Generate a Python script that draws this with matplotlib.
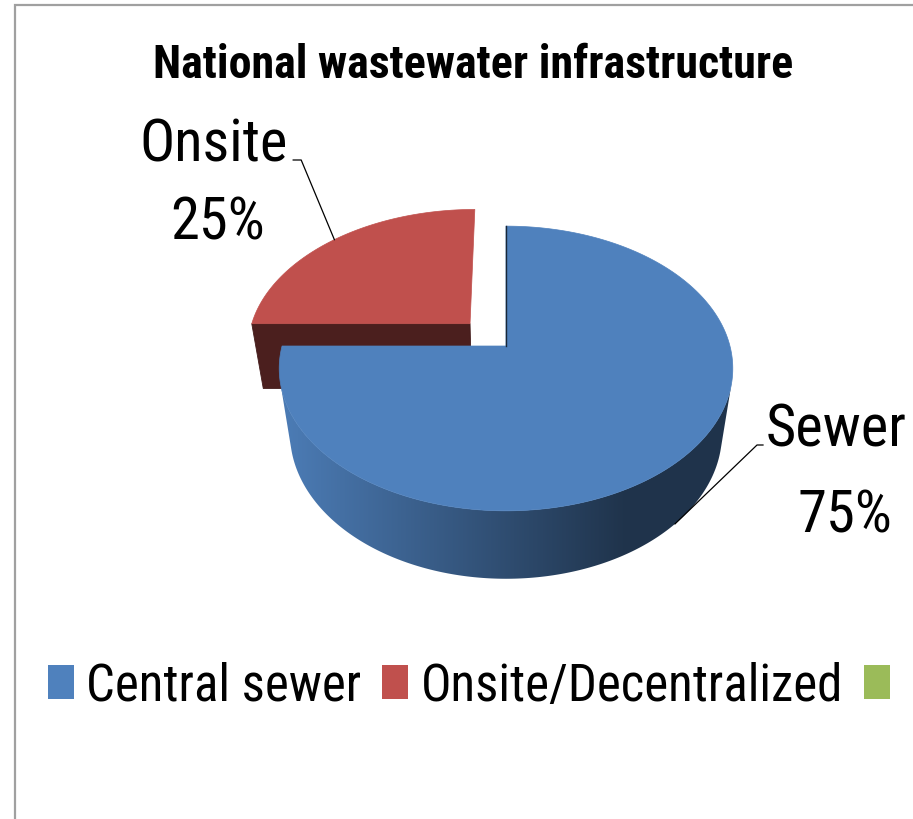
import numpy as np
import matplotlib
matplotlib.use("Agg")
import matplotlib.pyplot as plt
from matplotlib import font_manager
from matplotlib.patches import Polygon, Patch
from matplotlib.colors import to_rgb

# chart data
title = "National wastewater infrastructure"
categories = ["Central sewer", "Onsite/Decentralized", ""]
shares = [75, 25, 0]
slice_names = ["Sewer", "Onsite", ""]
colors = ["#4F81BD", "#C0504D", "#9BBB59"]
explode = [0.0, 0.233, 0.0]

W, H = 913, 820

# pick a narrow font if one is installed (the original uses a condensed face)
installed = {f.name for f in font_manager.fontManager.ttflist}
font = next((f for f in ["Liberation Sans Narrow", "DejaVu Sans Condensed",
                         "Roboto Condensed", "Open Sans Condensed", "Liberation Sans"]
             if f in installed), "DejaVu Sans")
plt.rcParams["font.family"] = [font, "DejaVu Sans"]

fig = plt.figure(figsize=(W / 100, H / 100), dpi=100)
ax = fig.add_axes([0, 0, 1, 1])
renderer = fig.canvas.get_renderer()

# frame of the chart area (top and left edges are visible)
ax.plot([15, 15, W], [H, 6, 6], color="#a0a0a0", lw=1.6, solid_joinstyle="miter")

# simple perspective camera for the 3-D pie
elev = np.radians(38.3)
dist = 4.97
focal = 1113.0
thick = 0.39
cx, cy = 506.0, 347.0
cam = np.array([0.0, -dist * np.cos(elev), dist * np.sin(elev)])


def proj(x, y, z):
    ce, se = np.cos(elev), np.sin(elev)
    d = dist + y * ce - z * se
    return cx + focal * x / d, cy - focal * (y * se + z * ce) / d


def shade(c, f):
    r, g, b = to_rgb(c)
    return (r * f, g * f, b * f)


# slice angles: start at 12 o'clock, clockwise
total = float(sum(shares))
starts, ends, mids, offs = [], [], [], []
a = 90.0
for s, e in zip(shares, explode):
    a1 = a - 360.0 * s / total
    m = np.radians((a + a1) / 2)
    starts.append(a)
    ends.append(a1)
    mids.append(m)
    offs.append((e * np.cos(m), e * np.sin(m)))
    a = a1

order = sorted([i for i in range(len(shares)) if shares[i] > 0],
               key=lambda i: -np.sin(mids[i]))

for i in order:
    ox, oy = offs[i]
    th = np.radians(np.linspace(starts[i], ends[i], 400))
    # radial faces
    for ang, sgn in [(np.radians(starts[i]), 1), (np.radians(ends[i]), -1)]:
        n = np.array([-np.sin(ang), np.cos(ang), 0.0]) * sgn
        vis = np.dot(cam - np.array([ox, oy, 0.0]), n)
        ex, ey = ox + np.cos(ang), oy + np.sin(ang)
        pts = [proj(ox, oy, 0), proj(ex, ey, 0), proj(ex, ey, -thick), proj(ox, oy, -thick)]
        if vis > 0.5:
            ax.add_patch(Polygon(pts, closed=True, fc=shade(colors[i], 0.39),
                                 ec=shade(colors[i], 0.35), lw=0.6))
        elif abs(vis) < 1e-6:
            ax.plot([pts[0][0], pts[1][0]], [pts[0][1], pts[1][1]],
                    color=shade(colors[i], 0.3), lw=1.0)
    # outer curved side, filled with a left-to-right shading gradient
    vis = np.array([np.dot(cam - [ox + np.cos(t), oy + np.sin(t), 0.0],
                           [np.cos(t), np.sin(t), 0.0]) > 0 for t in th])
    if vis.any():
        tv = th[vis]
        side = [proj(ox + np.cos(t), oy + np.sin(t), 0) for t in tv] + \
               [proj(ox + np.cos(t), oy + np.sin(t), -thick) for t in tv[::-1]]
        poly = Polygon(side, closed=True, fc="none", ec="none")
        ax.add_patch(poly)
        xs = np.linspace(0, W, 600)
        f = 0.95 - 0.55 * np.clip((xs - 290) / (625 - 290), 0, 1)
        grad = np.array([[shade(colors[i], v) for v in f]])
        im = ax.imshow(grad, extent=(0, W, H, 0), aspect="auto", interpolation="bilinear")
        im.set_clip_path(poly)
    # top face
    top = [proj(ox, oy, 0)] + [proj(ox + np.cos(t), oy + np.sin(t), 0) for t in th]
    ax.add_patch(Polygon(top, closed=True, fc=colors[i], ec=colors[i], lw=0.5))

ax.set_xlim(0, W)
ax.set_ylim(H, 0)
ax.axis("off")


def fit(txt, target, weight="normal"):
    t = ax.text(0, 0, txt, fontsize=40, fontweight=weight)
    w = t.get_window_extent(renderer).width
    t.remove()
    return 40.0 * target / w


def span(t):
    # horizontal extent of a text in pixel (= data) coordinates
    bb = t.get_window_extent(renderer)
    return bb.x0, bb.x1


grow = 1.06  # the original glyphs are taller than the available condensed face

# title
ts = fit(title, 603, "bold") * grow
ax.text(473, 78, title, fontsize=ts, fontweight="bold", ha="center", va="baseline")

# data labels with leader lines
lab_size = (fit("Onsite", 142) + fit("Sewer", 131)) / 2 * grow
label_pos = {1: dict(name=(214, 162, "center"), pct=(218, 240), lead_y=161, side="right"),
             0: dict(name=(907, 447, "right"), pct=(845, 533), lead_y=446, side="left")}
for i, lp in label_pos.items():
    nx, ny, ha = lp["name"]
    tn = ax.text(nx, ny, slice_names[i], fontsize=lab_size, ha=ha, va="baseline")
    ax.text(*lp["pct"], f"{shares[i] / total:.0%}", fontsize=lab_size, ha="center", va="baseline")
    x0, x1 = span(tn)
    if lp["side"] == "right":
        lead = [(x1 + 5, lp["lead_y"]), (x1 + 13, lp["lead_y"])]
    else:
        lead = [(x0 - 3, lp["lead_y"]), (x0 - 9, lp["lead_y"])]
    ox, oy = offs[i]
    z = 0.0 if np.sin(mids[i]) > 0 else -thick
    end = proj(ox + np.cos(mids[i]), oy + np.sin(mids[i]), z)
    xs = [p[0] for p in lead] + [end[0]]
    ys = [p[1] for p in lead] + [end[1]]
    ax.plot(xs, ys, color="black", lw=0.9)

# legend
leg_size = fit("Central sewer", 259) * grow
px = leg_size * 100 / 72
handles = [Patch(facecolor=c, edgecolor="none") for c in colors]
fig.legend(handles, categories, loc="center", bbox_to_anchor=(475 / W, 1 - 687 / H),
           ncol=3, frameon=False, fontsize=leg_size,
           handlelength=26 / px, handleheight=33 / px,
           handletextpad=12 / px, columnspacing=21 / px, borderpad=0)

fig.savefig("out.png", dpi=100)
